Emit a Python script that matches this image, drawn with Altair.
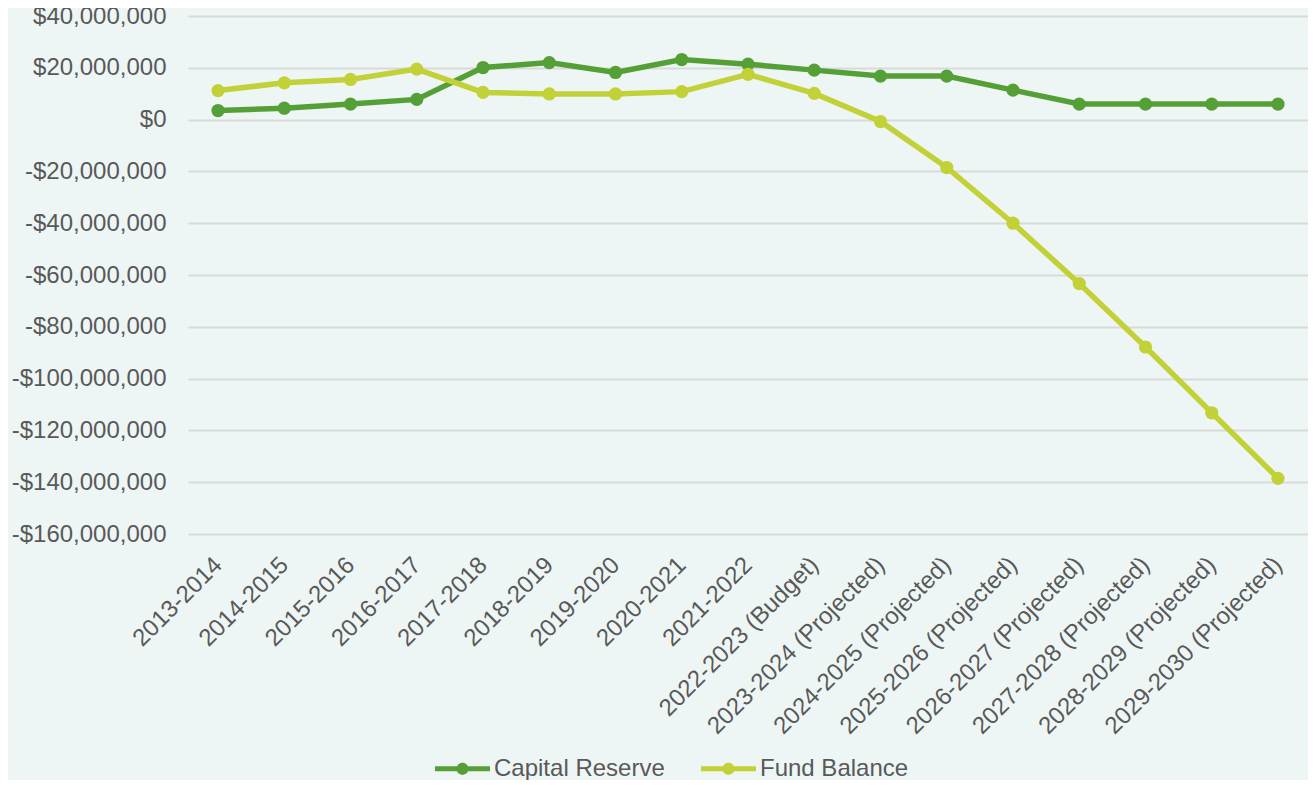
import altair as alt
import pandas as pd

years = ["2013-2014", "2014-2015", "2015-2016", "2016-2017", "2017-2018", "2018-2019",
         "2019-2020", "2020-2021", "2021-2022", "2022-2023 (Budget)",
         "2023-2024 (Projected)", "2024-2025 (Projected)", "2025-2026 (Projected)",
         "2026-2027 (Projected)", "2027-2028 (Projected)", "2028-2029 (Projected)",
         "2029-2030 (Projected)"]
capital_reserve = [3.5e6, 4.4e6, 6.0e6, 7.8e6, 20.1e6, 22.0e6, 18.2e6, 23.2e6, 21.4e6,
                   19.1e6, 16.8e6, 16.8e6, 11.4e6, 6.0e6, 6.0e6, 6.0e6, 6.0e6]
fund_balance = [11.2e6, 14.2e6, 15.5e6, 19.5e6, 10.5e6, 9.9e6, 9.9e6, 10.8e6, 17.5e6,
                10.1e6, -0.75e6, -18.5e6, -40.0e6, -63.3e6, -87.8e6, -113.2e6, -138.5e6]
series_names = ["Capital Reserve", "Fund Balance"]
series_colors = ["#55A036", "#C3D138"]

rows = []
for i, y in enumerate(years):
    rows.append({"year": y, "series": series_names[0], "value": capital_reserve[i], "o": i})
    rows.append({"year": y, "series": series_names[1], "value": fund_balance[i], "o": i})
df = pd.DataFrame(rows)

font = "Liberation Sans"
sym = ("M-1,-0.09 L1,-0.09 L1,0.09 L-1,0.09 Z "
       "M-0.22,0 A0.22,0.22 0 1,1 0.22,0 A0.22,0.22 0 1,1 -0.22,0 Z")

chart = alt.Chart(df).mark_line(
    strokeWidth=5.5,
    point=alt.OverlayMarkDef(filled=True, size=175, opacity=1),
).encode(
    x=alt.X("year:N", sort=years, title=None,
            scale=alt.Scale(type="point", padding=0.453),
            axis=alt.Axis(labelAngle=-45, labelAlign="right", labelBaseline="middle",
                          labelFont=font, labelFontSize=24, labelLimit=0,
                          labelColor="#595959", domain=False, ticks=False,
                          labelPadding=27, grid=False, labelOverlap=False)),
    y=alt.Y("value:Q", title=None,
            scale=alt.Scale(domain=[-160e6, 40e6], nice=False, zero=False),
            axis=alt.Axis(values=[40e6, 20e6, 0, -20e6, -40e6, -60e6, -80e6, -100e6,
                                  -120e6, -140e6, -160e6],
                          labelExpr="datum.value < 0 ? '-$' + format(-datum.value, ',') : '$' + format(datum.value, ',')",
                          labelFont=font, labelFontSize=24, labelColor="#595959",
                          domain=False, ticks=False, labelPadding=22,
                          gridColor="#D9D9D9", gridWidth=2)),
    color=alt.Color("series:N", sort=series_names,
                    scale=alt.Scale(domain=series_names, range=series_colors),
                    legend=alt.Legend(title=None, orient="none", direction="horizontal",
                                      legendX=247, legendY=725,
                                      symbolType=sym, symbolSize=3025,
                                      symbolStrokeWidth=0, symbolOpacity=1,
                                      labelFont=font, labelFontSize=24, labelLimit=0,
                                      labelColor="#595959", labelOffset=4,
                                      columnPadding=36)),
    order="o:Q",
).properties(
    width=1120, height=518,
    background="#EEF6F5",
    padding={"left": 180, "top": 8, "right": 0, "bottom": 246},
    autosize=alt.AutoSizeParams(type="none"),
).configure_view(stroke=None)

chart.save("out.html", embed_options={"renderer": "svg", "actions": False})
